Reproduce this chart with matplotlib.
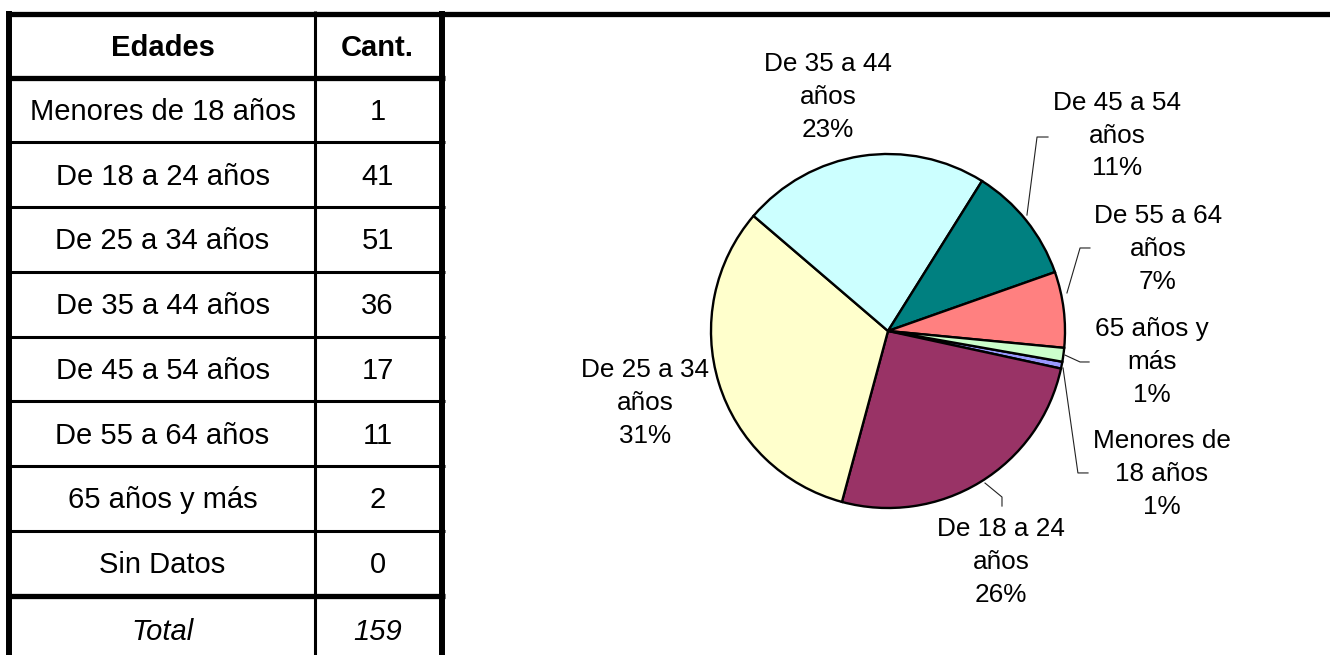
import matplotlib.pyplot as plt

plt.rcParams['font.family'] = ['Liberation Sans', 'DejaVu Sans']

# --- data (table + pie) ---
edades = ['Menores de 18 años', 'De 18 a 24 años', 'De 25 a 34 años', 'De 35 a 44 años',
          'De 45 a 54 años', 'De 55 a 64 años', '65 años y más', 'Sin Datos']
cantidades = [1, 41, 51, 36, 17, 11, 2, 0]
total = 159

pie_values = cantidades[:7]
pie_labels = ['Menores de\n18 años', 'De 18 a 24\naños', 'De 25 a 34\naños', 'De 35 a 44\naños',
              'De 45 a 54\naños', 'De 55 a 64\naños', '65 años y\nmás']
pie_pct = [1, 26, 31, 23, 11, 7, 1]
pie_colors = ['#9999FF', '#993366', '#FFFFCC', '#CCFFFF', '#008080', '#FF8080', '#CCFFCC']

# label placement (pie units, radius = 1) and leader lines
label_pos = [(1.548, -0.808), (0.638, -1.305), (-1.373, -0.407), (-0.339, 1.322),
             (1.294, 1.102), (1.525, 0.463), (1.492, -0.175)]
leaders = [
    [(0.989, -0.209), (1.073, -0.802), (1.13, -0.802)],
    [(0.548, -0.859), (0.644, -0.938), (0.644, -0.989)],
    None,
    None,
    [(0.785, 0.655), (0.842, 1.096), (0.904, 1.096)],
    [(1.011, 0.215), (1.085, 0.469), (1.141, 0.469)],
    [(1.0, -0.136), (1.085, -0.175), (1.136, -0.175)],
]

W, H = 1330, 655
fig = plt.figure(figsize=(W / 100, H / 100), dpi=100)
fig.patch.set_facecolor('white')

# --- table, drawn in pixel coordinates ---
bg = fig.add_axes([0, 0, 1, 1])
bg.set_xlim(0, W)
bg.set_ylim(H, 0)
bg.axis('off')

thick, thin = 3.8, 2.2
x_left, x_mid, x_right = 9, 314.5, 442
header_top, header_bot, row_h = 13.5, 77.5, 64.75
col1, col2 = (12 + 313) / 2, (316 + 439) / 2
dy = 2  # small nudge so text sits like the original

bg.plot([6, W], [header_top, header_top], color='black', lw=thick, solid_capstyle='butt')
for x, lw in [(x_left, 4.3), (x_mid, thin), (x_right, 4.3)]:
    bg.plot([x, x], [11, H], color='black', lw=lw, solid_capstyle='butt')

bg.plot([6, 445], [header_bot, header_bot], color='black', lw=thick, solid_capstyle='butt')
for i in range(1, len(edades) + 1):
    y = header_bot + i * row_h
    bg.plot([6, 445], [y, y], color='black',
            lw=thick if i == len(edades) else thin, solid_capstyle='butt')

fs_tab = 21
bg.text(col1, (header_top + header_bot) / 2 + dy, 'Edades', ha='center', va='center',
        fontsize=fs_tab, fontweight='bold')
bg.text(col2, (header_top + header_bot) / 2 + dy, 'Cant.', ha='center', va='center',
        fontsize=fs_tab, fontweight='bold')
for i, (ed, c) in enumerate(zip(edades, cantidades)):
    yc = header_bot + (i + 0.5) * row_h + dy
    bg.text(col1, yc, ed, ha='center', va='center', fontsize=fs_tab)
    bg.text(col2, yc, str(c), ha='center', va='center', fontsize=fs_tab)
y_tot = header_bot + len(edades) * row_h + 34 + dy
bg.text(col1, y_tot, 'Total', ha='center', va='center', fontsize=fs_tab, style='italic')
bg.text(col2, y_tot, str(total), ha='center', va='center', fontsize=fs_tab, style='italic')

# --- pie ---
cx, cy, r = 888, 331, 177
ax = fig.add_axes([450 / W, 0, (W - 450) / W, (H - 17) / H])
ax.pie(pie_values, colors=pie_colors, startangle=-10, counterclock=False,
       wedgeprops=dict(edgecolor='black', linewidth=1.7))
ax.set_aspect('auto')
ax.set_xlim((450 - cx) / r, (W - cx) / r)
ax.set_ylim((cy - H) / r, (cy - 17) / r)
ax.patch.set_visible(False)

for lab, pct, (lx, ly), ld in zip(pie_labels, pie_pct, label_pos, leaders):
    ax.text(lx, ly, f'{lab}\n{pct}%', ha='center', va='center', fontsize=18.8,
            linespacing=1.45)
    if ld:
        ax.plot([p[0] for p in ld], [p[1] for p in ld], color='#222222', lw=0.8)

fig.savefig('out.png', dpi=100, facecolor='white')
